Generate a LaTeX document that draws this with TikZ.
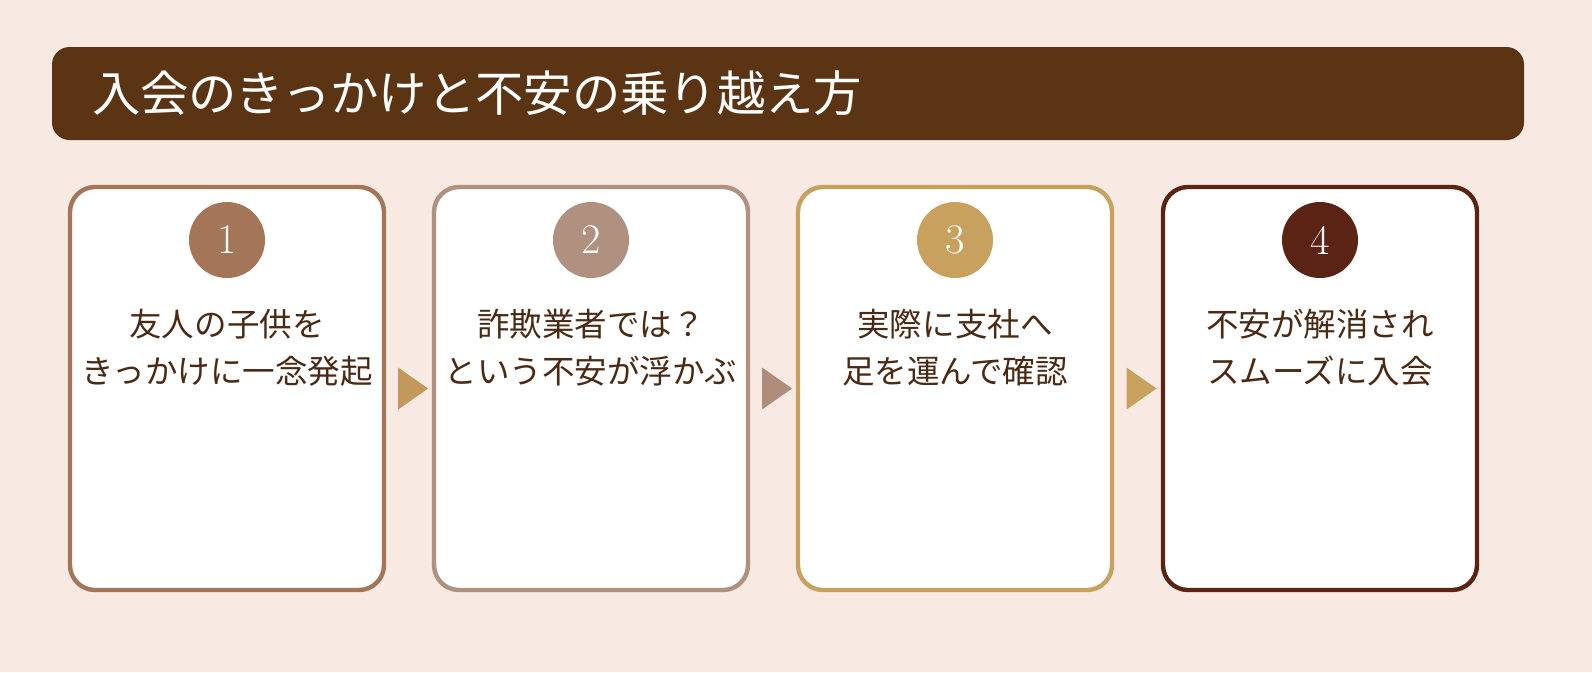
\documentclass[tikz,border=0pt]{standalone}
\usepackage{fontspec}
\newfontfamily\jp{Noto Sans CJK JP}
\usetikzlibrary{shapes.geometric, positioning}
\definecolor{bgpink}{HTML}{F8E9E2}
\definecolor{titlebrown}{HTML}{5B3413}
\definecolor{stepa}{HTML}{A47556}
\definecolor{stepb}{HTML}{B0907F}
\definecolor{stepc}{HTML}{C9A15E}
\definecolor{stepd}{HTML}{5A2314}
\definecolor{txt}{HTML}{4A2A14}

\begin{document}
\begin{tikzpicture}[
    card/.style={rectangle, draw=#1, line width=2.5pt, fill=white, rounded corners=0.5cm, minimum width=6.28cm, minimum height=8.06cm},
    num/.style={circle, fill=#1, minimum size=1.52cm, inner sep=0pt, text=white, font=\fontsize{24}{24}\selectfont},
    label/.style={align=center, text=txt, font=\jp\fontsize{18.5}{27}\selectfont},
    tri/.style={isosceles triangle, fill=#1, isosceles triangle apex angle=70, minimum height=0.6cm, inner sep=0pt}
]
    \fill[bgpink] (0,0) rectangle (31.84,-13.44);
    \useasboundingbox (0,0) rectangle (31.84,-13.44);

    % Title
    \node[rectangle, fill=titlebrown, rounded corners=0.35cm, minimum width=29.44cm, minimum height=1.86cm] (title) at (15.76,-1.87) {};
    \node[anchor=west, text=white, font=\jp\fontsize{27.5}{30}\selectfont] (titletext) at (1.72,-1.87) {入会のきっかけと不安の乗り越え方};

    % Cards
    \node[card=stepa] (card1) at (4.54,-7.77) {};
    \node[card=stepb] (card2) at (11.82,-7.77) {};
    \node[card=stepc] (card3) at (19.10,-7.77) {};
    \node[card=stepd] (card4) at (26.40,-7.77) {};

    % Numbers
    \node[num=stepa] (num1) at (4.54,-4.80) {1};
    \node[num=stepb] (num2) at (11.82,-4.80) {2};
    \node[num=stepc] (num3) at (19.10,-4.80) {3};
    \node[num=stepd] (num4) at (26.40,-4.80) {4};

    % Texts
    \node[label] (text1) at (4.54,-6.95) {友人の子供を\\きっかけに一念発起};
    \node[label] (text2) at (11.82,-6.95) {詐欺業者では？\\という不安が浮かぶ};
    \node[label] (text3) at (19.10,-6.95) {実際に支社へ\\足を運んで確認};
    \node[label] (text4) at (26.40,-6.95) {不安が解消され\\スムーズに入会};

    % Arrows
    \node[tri=stepc!80!stepa] (arrow1) at (8.18,-7.77) {};
    \node[tri=stepb!90!stepa] (arrow2) at (15.46,-7.77) {};
    \node[tri=stepc] (arrow3) at (22.75,-7.77) {};
\end{tikzpicture}
\end{document}
